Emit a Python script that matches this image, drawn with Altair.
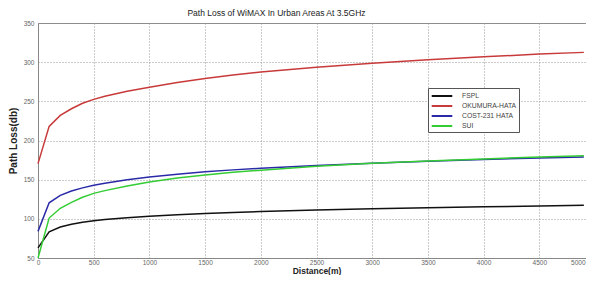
import altair as alt
import pandas as pd

distance = [0, 100, 200, 300, 400, 500, 600, 800, 1000, 1250, 1500, 1750,
            2000, 2500, 3000, 3500, 4000, 4500, 4900]
fspl = [63, 83.5, 89.5, 93, 95.5, 97.5, 99, 101.5, 103.3, 105.2, 106.8, 108.2,
        109.4, 111.3, 112.9, 114.2, 115.4, 116.4, 117.2]
okumura = [170.5, 218, 232, 240.5, 247.5, 252.5, 256.5, 263, 268, 274, 279, 283.5,
           287.5, 293.5, 298.5, 303, 306.8, 310.3, 312.5]
cost231 = [84, 120.5, 130, 135.5, 139.5, 143, 145.5, 150, 153.5, 157, 160, 162.5,
           164.5, 168, 171, 173.5, 175.8, 177.6, 178.8]
sui = [50, 101, 113.5, 121, 127.5, 132.5, 136, 142, 147, 152, 156, 159.5,
       162, 167, 170.8, 173.8, 176.5, 178.8, 180.5]

series_names = ["FSPL", "OKUMURA-HATA", "COST-231 HATA", "SUI"]
series_values = [fspl, okumura, cost231, sui]
series_colors = ["#111111", "#c83a3a", "#2a2aa8", "#33cc33"]
x_ticks = [0, 500, 1000, 1500, 2000, 2500, 3000, 3500, 4000, 4500, 5000]
y_ticks = [50, 100, 150, 200, 250, 300, 350]

rows = []
for name, vals in zip(series_names, series_values):
    for d, v in zip(distance, vals):
        rows.append({"Distance": d, "Loss": v, "Model": name})
df = pd.DataFrame(rows)

font = "Liberation Sans"

chart = alt.Chart(df).mark_line(strokeWidth=1.5).encode(
    x=alt.X("Distance:Q",
            scale=alt.Scale(domain=[0, 5000], nice=False),
            axis=alt.Axis(title="Distance(m)", values=x_ticks, format="d",
                          grid=True, gridDash=[1, 2], gridColor="#999999",
                          domainColor="#888888", ticks=False,
                          labelFontSize=6.5, labelColor="#666666",
                          labelAlign={"condition": {"test": "datum.value === 5000",
                                                    "value": "right"},
                                      "value": "center"},
                          labelOffset={"condition": {"test": "datum.value === 5000",
                                                     "value": -10},
                                       "value": 0},
                          titleFontSize=8.5, titleFontWeight="bold",
                          titleColor="#222222", titlePadding=1, labelPadding=1,
                          labelFont=font, titleFont=font)),
    y=alt.Y("Loss:Q",
            scale=alt.Scale(domain=[50, 350], nice=False),
            axis=alt.Axis(title="Path Loss(db)", values=y_ticks,
                          grid=True, gridDash=[1, 2], gridColor="#999999",
                          domainColor="#888888", ticks=False,
                          labelFontSize=6.5, labelColor="#666666",
                          titleFontSize=10, titleFontWeight="bold",
                          titleColor="#222222", titlePadding=5, labelPadding=4,
                          labelFont=font, titleFont=font)),
    color=alt.Color("Model:N",
                    scale=alt.Scale(domain=series_names, range=series_colors),
                    legend=alt.Legend(title=None, orient="none",
                                      legendX=390, legendY=65,
                                      symbolType="M-2.1,0H2.1", symbolSize=96,
                                      symbolStrokeWidth=2,
                                      symbolOffset=6, labelOffset=14,
                                      labelFontSize=6.8, labelFont=font,
                                      labelColor="#444444",
                                      rowPadding=0, padding=2,
                                      fillColor="white", strokeColor="#555555",
                                      labelLimit=200)),
).properties(
    width=557, height=235,
    title=alt.TitleParams("Path Loss of WiMAX In Urban Areas At 3.5GHz",
                          fontSize=8.5, font=font, fontWeight="normal",
                          color="#222222", offset=3, anchor="middle", dx=-40),
    padding={"left": 0, "top": 0, "right": -9, "bottom": 0},
).configure_view(stroke="#888888")

chart.save("out.html", embed_options={"renderer": "svg", "actions": False})
